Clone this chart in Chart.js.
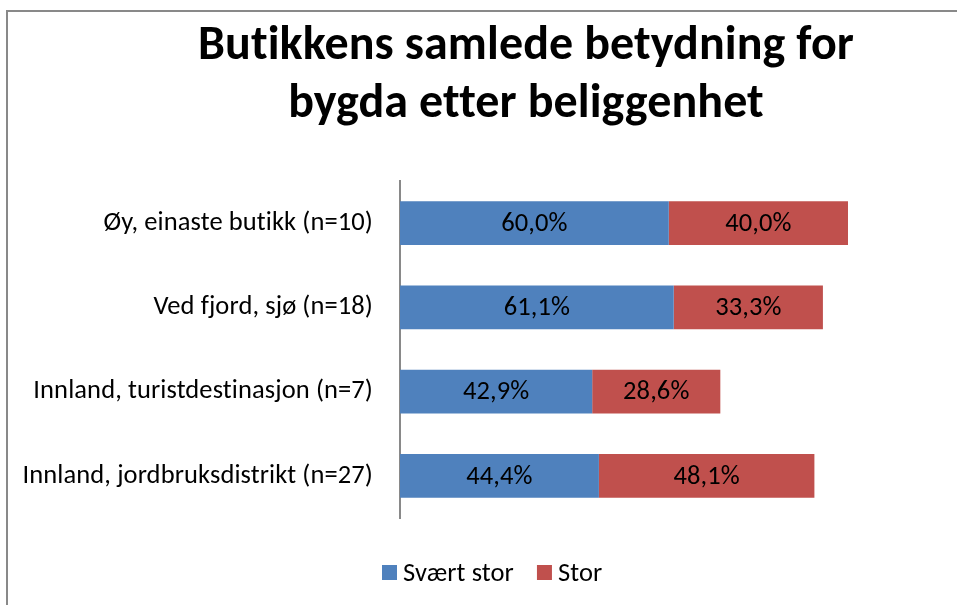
<!DOCTYPE html>
<html>
<head>
<meta charset="utf-8">
<script src="https://cdn.jsdelivr.net/npm/chart.js@4/dist/chart.umd.min.js"></script>
<style>
  html, body { margin: 0; padding: 0; background: #fff; overflow: hidden; }
  canvas { display: block; }
</style>
</head>
<body>
<canvas id="grafico" width="957" height="605"></canvas>
<script>
const kategorier = [
    "Øy, einaste butikk (n=10)",
    "Ved fjord, sjø (n=18)",
    "Innland, turistdestinasjon (n=7)",
    "Innland, jordbruksdistrikt (n=27)"
]
const svaertStor = [60.0, 61.1, 42.9, 44.4]
const stor = [40.0, 33.3, 28.6, 48.1]
const tittel = ["Butikkens samlede betydning for", "bygda etter beliggenhet"]
const serieNavn = ["Svært stor", "Stor"]
const farger = ["#4F81BD", "#C0504D"]

const fonte = "Carlito, Calibri, 'Open Sans', sans-serif"

// ramme, tittel, etiketter og legende
const tegnEkstra = {
    id: 'tegnEkstra',
    beforeDraw(chart) {
        const c = chart.ctx
        c.save()
        c.fillStyle = '#fff'
        c.fillRect(0, 0, chart.width, chart.height)
        c.strokeStyle = '#898989'
        c.lineWidth = 2
        c.strokeRect(7, 11, 1100, 800)
        c.restore()
        // ingen ligaturer (tt, ti) som i originalen
        c.letterSpacing = '0.1px'
    },
    afterDraw(chart) {
        const c = chart.ctx
        c.save()
        c.letterSpacing = '0.1px'
        c.fillStyle = '#000'
        c.textAlign = 'center'
        c.textBaseline = 'alphabetic'
        c.font = "bold 48px " + fonte
        c.fillText(tittel[0], 526, 59)
        c.fillText(tittel[1], 526, 117)

        // verdier midt i hver bit
        c.font = "26.5px " + fonte
        c.textBaseline = 'middle'
        chart.data.datasets.forEach((ds, i) => {
            chart.getDatasetMeta(i).data.forEach((bar, j) => {
                const x = (bar.x + bar.base) / 2
                c.fillText(ds.data[j].toFixed(1).replace('.', ',') + '%', x, bar.y + 1)
            })
        })

        // legende
        c.textAlign = 'left'
        c.textBaseline = 'alphabetic'
        let x = 382
        serieNavn.forEach((navn, i) => {
            c.fillStyle = farger[i]
            c.fillRect(x, 565, 15, 15)
            c.fillStyle = '#000'
            c.fillText(navn, x + 21, 581)
            x += 21 + c.measureText(navn).width + 23
        })
        c.restore()
    }
}

new Chart(document.getElementById('grafico'), {
    type: 'bar',
    data: {
        labels: kategorier,
        datasets: [
            { label: serieNavn[0], data: svaertStor, backgroundColor: farger[0] },
            { label: serieNavn[1], data: stor, backgroundColor: farger[1] }
        ]
    },
    options: {
        indexAxis: 'y',
        responsive: false,
        animation: false,
        devicePixelRatio: 1,
        barPercentage: 0.52,
        categoryPercentage: 1,
        layout: { padding: { top: 181, bottom: 87, right: 109, left: 0 } },
        plugins: {
            legend: { display: false },
            title: { display: false },
            tooltip: { enabled: false }
        },
        scales: {
            x: { stacked: true, min: 0, max: 100, display: false },
            y: {
                stacked: true,
                afterFit(scale) { scale.width = 400 },
                grid: { display: false, drawTicks: false },
                border: { display: true, color: '#898989', width: 2 },
                ticks: {
                    color: '#000',
                    padding: 27,
                    font: { family: fonte, size: 26.5 }
                }
            }
        }
    },
    plugins: [tegnEkstra]
});
</script>
</body>
</html>
